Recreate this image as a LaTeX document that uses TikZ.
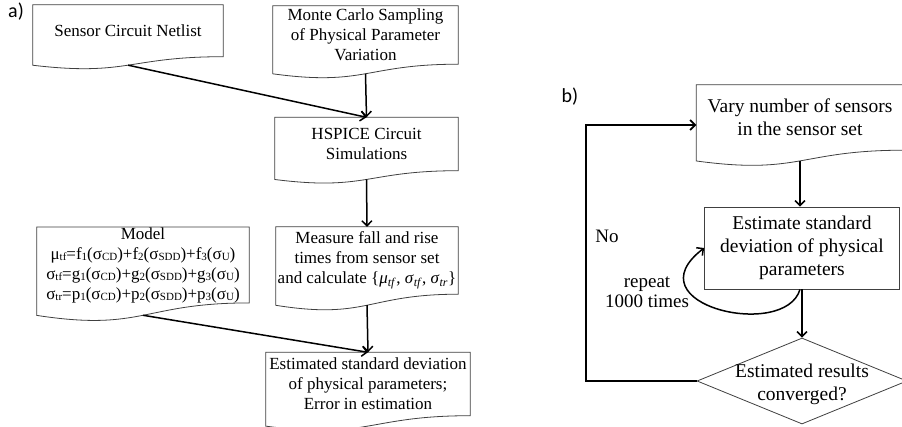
\documentclass[tikz,border=0pt]{standalone}
\usepackage{fontspec}
\setmainfont{Liberation Serif}
\newfontfamily\labelfont{Carlito}
\usetikzlibrary{arrows.meta,calc,shapes.geometric}
\newcommand\docpath[1]{%
  \draw[docline] (#1.north west) -- (#1.north east) -- (#1.south east)
    .. controls (#1.south) and ($(#1.south)!-0.381!(#1.north)$)
    .. ($(#1.south west)!-0.1646!(#1.north west)$) -- cycle;
  \coordinate (#1-b) at ($(#1.south)!-0.163!(#1.north)$);}
\newcommand\sbs[1]{\raisebox{-0.15ex}{\fontsize{11}{11}\selectfont #1}}
\begin{document}
\begin{tikzpicture}[x=1pt,y=-1pt,
  doc/.style={inner sep=0pt, align=center, font=\rmfamily\fontsize{17}{20}\selectfont},
  docb/.style={inner sep=0pt, align=center, font=\rmfamily\fontsize{19.5}{23}\selectfont},
  docline/.style={draw=black!75, line width=0.8pt},
  rectb/.style={docb, draw=black!75, line width=0.8pt},
  conn/.style={draw=black, line width=1.5pt, -{Straight Barb[length=5pt,width=10pt]}},
  loopline/.style={draw=black, line width=1.8pt, -{Straight Barb[length=5pt,width=10pt]}},
  txtb/.style={inner sep=0pt, align=center, font=\rmfamily\fontsize{19}{20.5}\selectfont},
  panel/.style={inner sep=0pt, font=\labelfont\fontsize{20}{24}\selectfont}]
\useasboundingbox (0,0) rectangle (902,426);
\fill[white] (0,0) rectangle (902,426);
% panel a
\node[panel] (la) at (16,12) {a)};
\node[doc, minimum width=190, minimum height=51.5] (net) at (128,30.75) {Sensor Circuit Netlist};
\node[doc, minimum width=185, minimum height=58] (mc) at (365.5,35) {Monte Carlo Sampling\\of Physical Parameter\\Variation};
\node[doc, minimum width=183, minimum height=53] (hs) at (366.5,144) {HSPICE Circuit\\Simulations};
\node[doc, minimum width=182, minimum height=67] (ms) at (367,260.5) {Measure fall and rise\\times from sensor set\\and calculate \{\textit{μ}\textsubscript{\textit{tf}}, \textit{σ}\textsubscript{\textit{tf}}, \textit{σ}\textsubscript{\textit{tr}}\}};
\node[doc, minimum width=212, minimum height=75] (md) at (143,265) {Model\\
μ\sbs{tf}=f\sbs{1}(σ\sbs{CD})+f\sbs{2}(σ\sbs{SDD})+f\sbs{3}(σ\sbs{U})\\
σ\sbs{tf}=g\sbs{1}(σ\sbs{CD})+g\sbs{2}(σ\sbs{SDD})+g\sbs{3}(σ\sbs{U})\\
σ\sbs{tr}=p\sbs{1}(σ\sbs{CD})+p\sbs{2}(σ\sbs{SDD})+p\sbs{3}(σ\sbs{U})};
\node[doc, minimum width=204, minimum height=63] (es) at (368,384) {Estimated standard deviation\\of physical parameters;\\Error in estimation};
\foreach \n in {net,mc,hs,ms,md,es}{\docpath{\n}}
\draw[conn] (net-b) -- (hs.north);
\draw[conn] (mc-b) -- (hs.north);
\draw[conn] (hs-b) -- (ms.north);
\draw[conn] (ms-b) -- (es.north);
\draw[conn] (md-b) -- (es.north);
% panel b
\node[panel] (lb) at (570,97) {b)};
\node[docb, minimum width=207, minimum height=65] (vy) at (800,117.5) {Vary number of sensors\\in the sensor set};
\docpath{vy}
\node[rectb, minimum width=195, minimum height=82] (em) at (802,248) {Estimate standard\\deviation of physical\\parameters};
\node[diamond, draw=black!75, line width=0.8pt, inner sep=0pt, minimum width=210, minimum height=86] (dm) at (802,381) {};
\node[docb] (dt) at (802,384) {Estimated results\\converged?};
\draw[conn] (vy-b) -- (vy-b |- em.north);
\draw[conn] (em.south) -- (dm.north);
\draw[loopline] (dm.west) -- ++(-111,0) |- ($(vy.west)+(0,7.5)$);
\draw[conn] ($(em.south)+(-2,0)$) .. controls +(-15,51) and +(-74,57) .. (em.west);
\node[txtb] (no) at (607,236) {No};
\node[txtb] (rp) at (647,292) {repeat\\1000 times};
\end{tikzpicture}
\end{document}
